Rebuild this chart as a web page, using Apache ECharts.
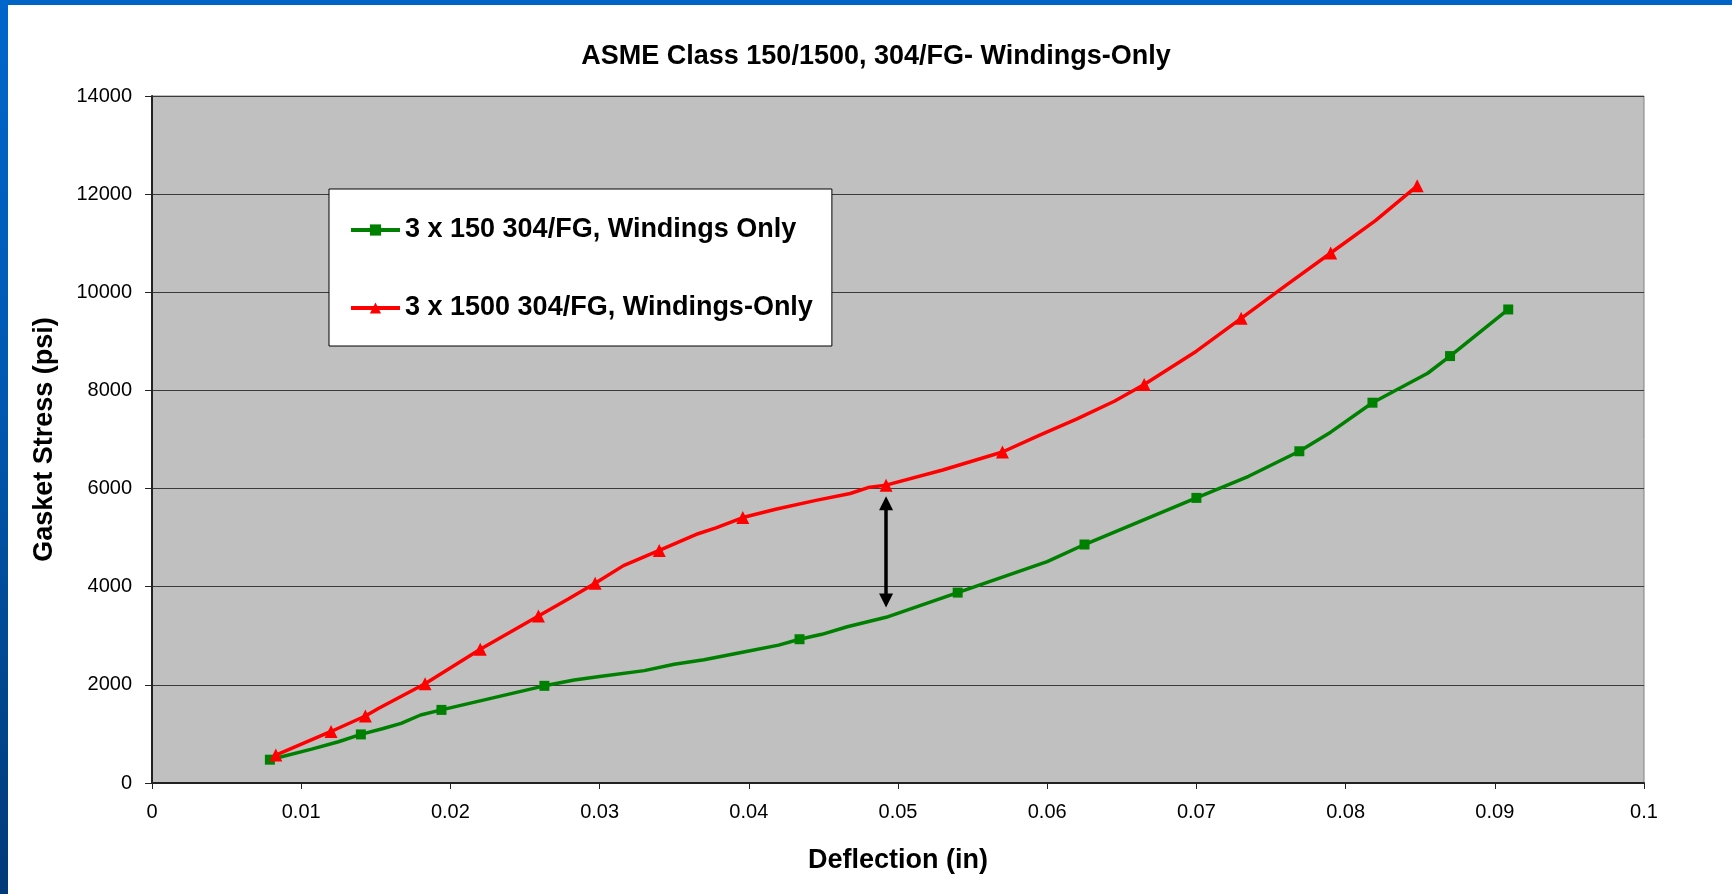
<!DOCTYPE html>
<html>
<head>
<meta charset="utf-8">
<title>ASME Class 150/1500, 304/FG- Windings-Only</title>
<script src="https://cdn.jsdelivr.net/npm/echarts@6/dist/echarts.min.js"></script>
<style>
  html, body { margin: 0; padding: 0; background: #ffffff; overflow: hidden; }
  #frameTop { position: absolute; left: 0; top: 0; width: 1732px; height: 5px; background: #0063c6; }
  #frameLeft { position: absolute; left: 0; top: 0; width: 8px; height: 894px;
    background: linear-gradient(to bottom, #0066cc 0%, #0058b0 45%, #003a78 100%); }
  #chart { position: absolute; left: 0; top: 0; width: 1732px; height: 894px; }
</style>
</head>
<body>
<div id="chart"></div>
<div id="frameTop"></div>
<div id="frameLeft"></div>
<script>
// Class 150 gasket, 304/FG windings only: deflection (in) vs gasket stress (psi)
const class150Deflection = [0.0079, 0.0107, 0.0125, 0.0140, 0.0155, 0.0167, 0.0180, 0.0194, 0.0263, 0.0283, 0.0300, 0.0330, 0.0350, 0.0370, 0.0400, 0.0420, 0.0434, 0.0449, 0.0466, 0.0492, 0.0540, 0.0600, 0.0625, 0.0700, 0.0735, 0.0769, 0.0790, 0.0818, 0.0855, 0.0870, 0.0909];
const class150Stress     = [475, 690, 840, 990, 1110, 1216, 1386, 1490, 1980, 2100, 2170, 2290, 2420, 2510, 2690, 2810, 2930, 3030, 3185, 3377, 3880, 4510, 4860, 5810, 6250, 6760, 7150, 7750, 8350, 8700, 9650];
const class150Marked     = [1, 0, 0, 1, 0, 0, 0, 1, 1, 0, 0, 0, 0, 0, 0, 0, 1, 0, 0, 0, 1, 0, 1, 1, 0, 1, 0, 1, 0, 1, 1];

// Class 1500 gasket, 304/FG windings only
const class1500Deflection = [0.0083, 0.0120, 0.0143, 0.0152, 0.0183, 0.0220, 0.0259, 0.0279, 0.0297, 0.0316, 0.0340, 0.0366, 0.0378, 0.0396, 0.0418, 0.0445, 0.0468, 0.0480, 0.0492, 0.0530, 0.0570, 0.0595, 0.0620, 0.0645, 0.0665, 0.0700, 0.0730, 0.0760, 0.0790, 0.0820, 0.0848];
const class1500Stress     = [570, 1050, 1365, 1522, 2024, 2724, 3403, 3750, 4070, 4430, 4740, 5080, 5200, 5410, 5580, 5760, 5900, 6020, 6070, 6378, 6745, 7090, 7420, 7780, 8120, 8800, 9470, 10140, 10800, 11460, 12170];
const class1500Marked     = [1, 1, 1, 0, 1, 1, 1, 0, 1, 0, 1, 0, 0, 1, 0, 0, 0, 0, 1, 0, 1, 0, 0, 0, 1, 0, 1, 0, 1, 0, 1];

// Double-headed arrow marking the stress gap between the two curves
const gapArrowDeflection = 0.0492;
const gapArrowStress = [3720, 5700];

const xTicks = { min: 0, max: 0.1, step: 0.01 };
const yTicks = { min: 0, max: 14000, step: 2000 };

const seriesNames = ['3 x 150 304/FG, Windings Only', '3 x 1500 304/FG, Windings-Only'];

const FONT = "'Liberation Sans', Arial, Helvetica, sans-serif";

function buildPoints(xs, ys, marked, symbol) {
  return xs.map((x, i) => ({
    value: [x, ys[i]],
    symbol: marked[i] ? symbol : 'none'
  }));
}

const chart = echarts.init(document.getElementById('chart'), null, { renderer: 'canvas' });

chart.setOption({
  animation: false,
  backgroundColor: 'transparent',
  title: {
    text: 'ASME Class 150/1500, 304/FG- Windings-Only',
    left: 871,
    top: 38,
    textAlign: 'center',
    textStyle: { fontFamily: FONT, fontWeight: 'bold', fontSize: 27, color: '#000' }
  },
  grid: {
    left: 152, right: 88, top: 96, bottom: 111,
    show: true,
    backgroundColor: '#c0c0c0',
    borderColor: '#808080',
    borderWidth: 1
  },
  legend: {
    orient: 'vertical',
    left: 329,
    top: 189,
    padding: [26, 19, 23, 20],
    itemGap: 48,
    itemWidth: 49,
    itemHeight: 14,
    backgroundColor: '#ffffff',
    borderColor: '#000000',
    borderWidth: 1,
    borderRadius: 0,
    selectedMode: false,
    lineStyle: { width: 4 },
    textStyle: { fontFamily: FONT, fontWeight: 'bold', fontSize: 27, color: '#000', lineHeight: 30, padding: [0, 0, 0, 0] },
    data: seriesNames
  },
  xAxis: {
    type: 'value',
    min: xTicks.min,
    max: xTicks.max,
    interval: xTicks.step,
    name: 'Deflection (in)',
    nameLocation: 'middle',
    nameGap: 64,
    nameTextStyle: { fontFamily: FONT, fontWeight: 'bold', fontSize: 27, color: '#000' },
    axisLine: { show: true, lineStyle: { color: '#222', width: 2 } },
    axisTick: { show: true, length: 6, lineStyle: { color: '#222', width: 1 } },
    axisLabel: {
      margin: 19,
      fontFamily: FONT, fontSize: 20, color: '#000',
      formatter: v => String(+v.toFixed(2))
    },
    splitLine: { show: false }
  },
  yAxis: {
    type: 'value',
    min: yTicks.min,
    max: yTicks.max,
    interval: yTicks.step,
    name: 'Gasket Stress (psi)',
    nameLocation: 'middle',
    nameRotate: 90,
    nameGap: 94,
    nameTextStyle: { fontFamily: FONT, fontWeight: 'bold', fontSize: 27, color: '#000' },
    axisLine: { show: true, lineStyle: { color: '#222', width: 2 } },
    axisTick: { show: true, length: 7, lineStyle: { color: '#222', width: 1 } },
    axisLabel: {
      margin: 20, fontFamily: FONT, fontSize: 20, color: '#000',
      formatter: v => String(Math.round(v))
    },
    splitLine: { show: true, lineStyle: { color: '#3a3a3a', width: 1 } }
  },
  series: [
    {
      name: seriesNames[0],
      type: 'line',
      smooth: false,
      symbol: 'rect',
      symbolSize: 10,
      showAllSymbol: true,
      color: '#008000',
      lineStyle: { color: '#008000', width: 3.5 },
      itemStyle: { color: '#008000' },
      data: buildPoints(class150Deflection, class150Stress, class150Marked, 'rect'),
      z: 3
    },
    {
      name: seriesNames[1],
      type: 'line',
      smooth: false,
      symbol: 'triangle',
      symbolSize: 13,
      showAllSymbol: true,
      color: '#ff0000',
      lineStyle: { color: '#ff0000', width: 3.5 },
      itemStyle: { color: '#ff0000' },
      data: buildPoints(class1500Deflection, class1500Stress, class1500Marked, 'triangle'),
      z: 4,
      markLine: {
        silent: true,
        symbol: ['triangle', 'triangle'],
        symbolSize: [14, 14],
        label: { show: false },
        lineStyle: { color: '#000000', width: 3.5, type: 'solid' },
        data: [[
          { coord: [gapArrowDeflection, gapArrowStress[0]] },
          { coord: [gapArrowDeflection, gapArrowStress[1]] }
        ]]
      }
    }
  ]
});
</script>
</body>
</html>
